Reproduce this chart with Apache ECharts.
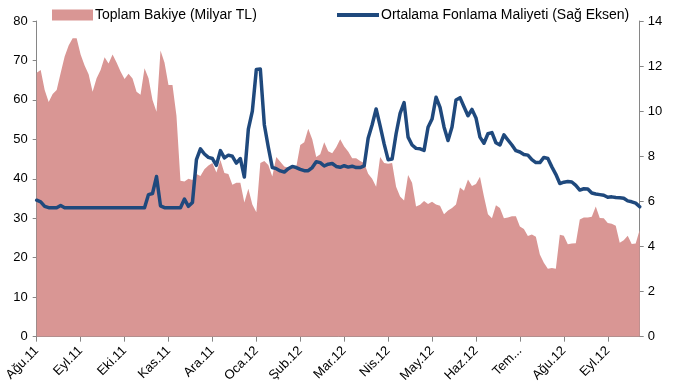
<!DOCTYPE html>
<html>
<head>
<meta charset="utf-8">
<script src="https://cdn.jsdelivr.net/npm/echarts@6/dist/echarts.min.js"></script>
<style>html,body{margin:0;padding:0;background:#fff;}#c{width:676px;height:385px;}</style>
</head>
<body>
<div id="c"></div>
<script>
const monthLabels = ['Ağu.11','Eyl.11','Eki.11','Kas.11','Ara.11','Oca.12','Şub.12','Mar.12','Nis.12','May.12','Haz.12','Tem...','Ağu.12','Eyl.12'];
const stepPerMonth = 11;

const bakiye = [
66.9,67.6,62.5,59.5,61.5,62.5,66.8,71,73.8,75.6,75.6,71.5,68.7,66.5,62.1,65.5,67.6,70.8,69.2,71.5,
69.5,67.2,65.3,66.6,65.4,62.1,61.3,68,65.5,60,57,72.5,69.5,63.8,63.8,56,39.5,39.3,40,39.7,
41.2,40.7,42.4,43.4,44,41.6,44.8,41.5,41.2,38.5,39,39,34,37.5,33.5,31.5,44,44.5,43.5,40.6,
45.5,44.3,43.1,42.8,43,43,48.6,49.3,52.7,50,45.5,46.2,49.3,47,46.5,48,50,48.2,46.9,45.2,
45.2,44.5,44,41.3,40,38,45.5,44,43.8,44,38,35.5,34.5,41,39,33,33.4,34.4,33.6,34.2,
33.5,33.2,31,32,32.6,33.5,37.8,37,39.8,38.2,38.7,40.5,35.5,31,30,33.3,32.6,30,30.2,30.5,
30.5,27.9,27.3,25.5,25.9,25.3,20.8,18.7,17.2,17.4,17.2,25.8,25.6,23.4,23.6,23.7,29.7,30.2,30.2,30.4,
33,30.1,30,28.8,28.6,28.1,23.8,24.4,25.6,23.5,23.6,27.1
];

const maliyet = [
6.05,5.98,5.78,5.72,5.72,5.72,5.82,5.72,5.72,5.72,5.72,5.72,5.72,5.72,5.72,5.72,5.72,5.72,5.72,5.72,
5.72,5.72,5.72,5.72,5.72,5.72,5.72,5.72,6.3,6.35,7.1,5.8,5.72,5.72,5.72,5.72,5.72,6.1,5.78,5.95,
7.85,8.33,8.1,7.95,7.9,7.6,8.25,7.93,8.05,8.0,7.7,7.9,7.08,9.2,10.0,11.85,11.87,9.4,8.4,7.5,
7.45,7.35,7.3,7.45,7.55,7.5,7.42,7.36,7.36,7.5,7.76,7.72,7.57,7.65,7.68,7.55,7.51,7.58,7.52,7.56,
7.5,7.5,7.57,8.8,9.4,10.1,9.35,8.55,7.85,7.88,9.0,9.9,10.38,8.85,8.5,8.35,8.33,8.26,9.29,9.65,
10.62,10.17,9.3,8.7,9.3,10.5,10.6,10.2,9.8,10.08,9.7,8.85,8.58,9.0,9.05,8.6,8.5,8.95,8.72,8.5,
8.25,8.19,8.08,8.05,7.85,7.72,7.72,7.95,7.9,7.53,7.2,6.79,6.85,6.88,6.86,6.71,6.5,6.56,6.55,6.37,
6.33,6.3,6.27,6.18,6.2,6.17,6.16,6.14,6.02,5.98,5.92,5.76
];

const leftTicks = {min: 0, max: 80, interval: 10};
const rightTicks = {min: 0, max: 14, interval: 2};

const categories = bakiye.map((_, i) => (i % stepPerMonth === 0 && monthLabels[i / stepPerMonth]) ? monthLabels[i / stepPerMonth] : ('p' + i));

const chart = echarts.init(document.getElementById('c'), null, {renderer: 'canvas'});
const font = 'Liberation Sans';
const axisLineStyle = {color: '#868686', width: 1};
chart.setOption({
  animation: false,
  textStyle: {fontFamily: font},
  grid: {left: 36.7, right: 36.3, top: 21, bottom: 48, containLabel: false},
  legend: [
    {data: [{name: 'Toplam Bakiye (Milyar TL)', icon: 'rect'}], left: 47, top: 3, itemWidth: 41, itemHeight: 11, itemGap: 3,
     textStyle: {fontFamily: font, fontSize: 14, color: '#000', padding: [0,0,0,-3]}},
    {data: [{name: 'Ortalama Fonlama Maliyeti (Sağ Eksen)', icon: 'rect'}], left: 332, top: 3, itemWidth: 42, itemHeight: 4, itemGap: 3,
     textStyle: {fontFamily: font, fontSize: 14, color: '#000', padding: [0,0,0,-3]}}
  ],
  xAxis: {
    type: 'category', data: categories, boundaryGap: false,
    axisLine: {lineStyle: axisLineStyle},
    axisTick: {show: true, interval: stepPerMonth - 1, length: 5, lineStyle: axisLineStyle},
    axisLabel: {interval: stepPerMonth - 1, rotate: 45, fontSize: 13, color: '#000', margin: 12, fontFamily: font},
    splitLine: {show: false}
  },
  yAxis: [
    {type: 'value', min: leftTicks.min, max: leftTicks.max, interval: leftTicks.interval, position: 'left',
     axisLine: {show: true, lineStyle: axisLineStyle}, axisTick: {show: true, length: 4, lineStyle: axisLineStyle},
     axisLabel: {fontSize: 13, color: '#000', margin: 9, fontFamily: font}, splitLine: {show: false}},
    {type: 'value', min: rightTicks.min, max: rightTicks.max, interval: rightTicks.interval, position: 'right',
     axisLine: {show: true, lineStyle: axisLineStyle}, axisTick: {show: true, length: 4, lineStyle: axisLineStyle},
     axisLabel: {fontSize: 13, color: '#000', margin: 8, fontFamily: font}, splitLine: {show: false}}
  ],
  series: [
    {name: 'Toplam Bakiye (Milyar TL)', type: 'line', yAxisIndex: 0, data: bakiye, showSymbol: false, symbol: 'none',
     lineStyle: {width: 0, color: '#D99694'}, itemStyle: {color: '#D99694'}, areaStyle: {color: '#D99694', opacity: 1}, z: 1},
    {name: 'Ortalama Fonlama Maliyeti (Sağ Eksen)', type: 'line', yAxisIndex: 1, data: maliyet, showSymbol: false, symbol: 'none',
     lineStyle: {width: 3.5, color: '#1F497D', join: 'round', cap: 'round'}, itemStyle: {color: '#1F497D'}, z: 3}
  ]
});
</script>
</body>
</html>
